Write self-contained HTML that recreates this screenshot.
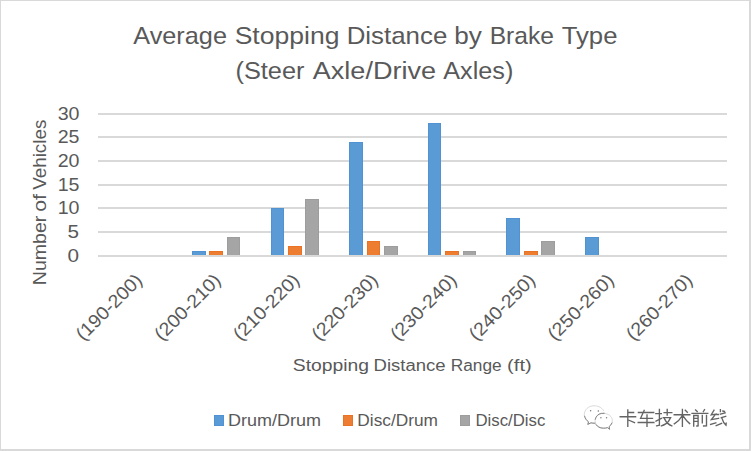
<!DOCTYPE html>
<html><head><meta charset="utf-8"><style>
html,body{margin:0;padding:0;background:#fff;}
svg{display:block;}
text{font-family:"Liberation Sans",sans-serif;fill:#595959;}
</style></head><body>
<svg width="751" height="451" viewBox="0 0 751 451">
<rect x="0" y="0" width="751" height="451" fill="#fff"/>
<rect x="0" y="0" width="751" height="1" fill="#D9D9D9"/>
<rect x="0" y="0" width="1" height="451" fill="#D9D9D9"/>
<rect x="749" y="0" width="2" height="451" fill="#D9D9D9"/>
<rect x="0" y="449" width="751" height="2" fill="#D9D9D9"/>
<text x="133.3" y="43.7" font-size="24.6" textLength="93.65" lengthAdjust="spacingAndGlyphs">Average</text>
<text x="234.65" y="43.7" font-size="24.6" textLength="104.77" lengthAdjust="spacingAndGlyphs">Stopping</text>
<text x="346.7" y="43.7" font-size="24.6" textLength="100.59" lengthAdjust="spacingAndGlyphs">Distance</text>
<text x="454.21" y="43.7" font-size="24.6" textLength="27.58" lengthAdjust="spacingAndGlyphs">by</text>
<text x="489.7" y="43.7" font-size="24.6" textLength="64.3" lengthAdjust="spacingAndGlyphs">Brake</text>
<text x="561.78" y="43.7" font-size="24.6" textLength="55.65" lengthAdjust="spacingAndGlyphs">Type</text>
<text x="235.45" y="78.7" font-size="24.6" textLength="69.09" lengthAdjust="spacingAndGlyphs">(Steer</text>
<text x="312.7" y="78.7" font-size="24.6" textLength="123.49" lengthAdjust="spacingAndGlyphs">Axle/Drive</text>
<text x="443.3" y="78.7" font-size="24.6" textLength="70.08" lengthAdjust="spacingAndGlyphs">Axles)</text>
<rect x="98" y="113" width="629" height="2" fill="#D9D9D9"/>
<rect x="98" y="136" width="629" height="2" fill="#D9D9D9"/>
<rect x="98" y="160" width="629" height="2" fill="#D9D9D9"/>
<rect x="98" y="184" width="629" height="2" fill="#D9D9D9"/>
<rect x="98" y="207" width="629" height="2" fill="#D9D9D9"/>
<rect x="98" y="231" width="629" height="2" fill="#D9D9D9"/>
<rect x="192" y="251" width="14" height="5" fill="#5092D2"/>
<rect x="193" y="252" width="12" height="4" fill="#5B9BD5"/>
<rect x="209" y="251" width="14" height="5" fill="#EA7224"/>
<rect x="210" y="252" width="12" height="4" fill="#ED7D31"/>
<rect x="227" y="237" width="13" height="19" fill="#9D9D9D"/>
<rect x="228" y="238" width="11" height="18" fill="#A5A5A5"/>
<rect x="271" y="208" width="13" height="48" fill="#5092D2"/>
<rect x="272" y="209" width="11" height="47" fill="#5B9BD5"/>
<rect x="288" y="246" width="14" height="10" fill="#EA7224"/>
<rect x="289" y="247" width="12" height="9" fill="#ED7D31"/>
<rect x="305" y="199" width="14" height="57" fill="#9D9D9D"/>
<rect x="306" y="200" width="12" height="56" fill="#A5A5A5"/>
<rect x="349" y="142" width="14" height="114" fill="#5092D2"/>
<rect x="350" y="143" width="12" height="113" fill="#5B9BD5"/>
<rect x="367" y="241" width="13" height="15" fill="#EA7224"/>
<rect x="368" y="242" width="11" height="14" fill="#ED7D31"/>
<rect x="384" y="246" width="14" height="10" fill="#9D9D9D"/>
<rect x="385" y="247" width="12" height="9" fill="#A5A5A5"/>
<rect x="428" y="123" width="13" height="133" fill="#5092D2"/>
<rect x="429" y="124" width="11" height="132" fill="#5B9BD5"/>
<rect x="445" y="251" width="14" height="5" fill="#EA7224"/>
<rect x="446" y="252" width="12" height="4" fill="#ED7D31"/>
<rect x="463" y="251" width="13" height="5" fill="#9D9D9D"/>
<rect x="464" y="252" width="11" height="4" fill="#A5A5A5"/>
<rect x="506" y="218" width="14" height="38" fill="#5092D2"/>
<rect x="507" y="219" width="12" height="37" fill="#5B9BD5"/>
<rect x="524" y="251" width="14" height="5" fill="#EA7224"/>
<rect x="525" y="252" width="12" height="4" fill="#ED7D31"/>
<rect x="541" y="241" width="14" height="15" fill="#9D9D9D"/>
<rect x="542" y="242" width="12" height="14" fill="#A5A5A5"/>
<rect x="585" y="237" width="14" height="19" fill="#5092D2"/>
<rect x="586" y="238" width="12" height="18" fill="#5B9BD5"/>
<rect x="98" y="255" width="629" height="2" fill="#D9D9D9"/>
<text x="79.5" y="119.8" text-anchor="end" font-size="18.8" textLength="21.8" lengthAdjust="spacingAndGlyphs">30</text>
<text x="79.5" y="142.8" text-anchor="end" font-size="18.8" textLength="21.8" lengthAdjust="spacingAndGlyphs">25</text>
<text x="79.5" y="166.8" text-anchor="end" font-size="18.8" textLength="21.8" lengthAdjust="spacingAndGlyphs">20</text>
<text x="79.5" y="190.8" text-anchor="end" font-size="18.8" textLength="21.8" lengthAdjust="spacingAndGlyphs">15</text>
<text x="79.5" y="213.8" text-anchor="end" font-size="18.8" textLength="21.8" lengthAdjust="spacingAndGlyphs">10</text>
<text transform="translate(79,237.8) scale(1.1,1)" text-anchor="end" font-size="18.8">5</text>
<text transform="translate(79,261.8) scale(1.1,1)" text-anchor="end" font-size="18.8">0</text>

<g transform="translate(46,0) rotate(-90)"><text x="-285.19" y="0" font-size="17.6" textLength="69.55" lengthAdjust="spacingAndGlyphs">Number</text>
<text x="-211.81" y="0" font-size="17.6" textLength="17.73" lengthAdjust="spacingAndGlyphs">of</text>
<text x="-189.8" y="0" font-size="17.6" textLength="70.17" lengthAdjust="spacingAndGlyphs">Vehicles</text></g>
<text transform="translate(143.31,281.5) rotate(-45)" text-anchor="end" font-size="18.5" textLength="85" lengthAdjust="spacingAndGlyphs">(190-200)</text>
<text transform="translate(221.94,281.5) rotate(-45)" text-anchor="end" font-size="18.5" textLength="85" lengthAdjust="spacingAndGlyphs">(200-210)</text>
<text transform="translate(300.56,281.5) rotate(-45)" text-anchor="end" font-size="18.5" textLength="85" lengthAdjust="spacingAndGlyphs">(210-220)</text>
<text transform="translate(379.19,281.5) rotate(-45)" text-anchor="end" font-size="18.5" textLength="85" lengthAdjust="spacingAndGlyphs">(220-230)</text>
<text transform="translate(457.81,281.5) rotate(-45)" text-anchor="end" font-size="18.5" textLength="85" lengthAdjust="spacingAndGlyphs">(230-240)</text>
<text transform="translate(536.44,281.5) rotate(-45)" text-anchor="end" font-size="18.5" textLength="85" lengthAdjust="spacingAndGlyphs">(240-250)</text>
<text transform="translate(615.06,281.5) rotate(-45)" text-anchor="end" font-size="18.5" textLength="85" lengthAdjust="spacingAndGlyphs">(250-260)</text>
<text transform="translate(693.69,281.5) rotate(-45)" text-anchor="end" font-size="18.5" textLength="85" lengthAdjust="spacingAndGlyphs">(260-270)</text>

<text x="292.86" y="370.7" font-size="17.3" textLength="76.24" lengthAdjust="spacingAndGlyphs">Stopping</text>
<text x="373.56" y="370.7" font-size="17.3" textLength="72.04" lengthAdjust="spacingAndGlyphs">Distance</text>
<text x="450.75" y="370.7" font-size="17.3" textLength="50.94" lengthAdjust="spacingAndGlyphs">Range</text>
<text x="507.14" y="370.7" font-size="17.3" textLength="24.58" lengthAdjust="spacingAndGlyphs">(ft)</text>
<rect x="214" y="415" width="10" height="11" fill="#5092D2"/><rect x="215" y="416" width="8" height="9" fill="#5B9BD5"/>
<text x="228.11" y="425.8" font-size="16.2" textLength="92.98" lengthAdjust="spacingAndGlyphs">Drum/Drum</text>
<rect x="343" y="415" width="10" height="11" fill="#EA7224"/><rect x="344" y="416" width="8" height="9" fill="#ED7D31"/>
<text x="357.37" y="425.8" font-size="16.2" textLength="80.65" lengthAdjust="spacingAndGlyphs">Disc/Drum</text>
<rect x="460" y="415" width="10" height="11" fill="#9D9D9D"/><rect x="461" y="416" width="8" height="9" fill="#A5A5A5"/>
<text x="475.4" y="425.8" font-size="16.2" textLength="69.97" lengthAdjust="spacingAndGlyphs">Disc/Disc</text>
<g fill="none" stroke="#dadada" stroke-width="1" stroke-linecap="round">
<path d="M603.5,410.5 C601,406.5 597,405.8 594,405.8 C588.5,405.8 584.3,409.8 584.3,414.5 C584.3,417.8 586,420.2 588.5,421.8 L587.8,424.4 L591,422.8 C592.3,423.2 593.5,423.3 595,423.2"/>
<path d="M603.5,413.3 C598.5,413.3 595.1,416.6 595.1,420.6 C595.1,424.8 599,428.2 603.5,428.2 C605,428.2 606.3,428 607.5,427.6 L609.6,429.3 L609.2,426.5 C611.2,425 612.4,423 612.4,420.6 C612.4,416.6 608.5,413.3 603.5,413.3 Z"/>
</g>
<g fill="none" stroke="#858585" stroke-width="1" stroke-linecap="round">
<path d="M584.6,416.2 C585.3,418.6 586.6,420.5 588.5,421.8 L587.8,424.4 L591,422.8 C592.3,423.2 593.5,423.3 595,423.2"/>
<path d="M595.3,419.3 C595.8,416.5 598,414 601.3,413.4 L604.2,413.3"/>
<path d="M596,424.6 C597.5,426.8 600,428.2 603.5,428.2 C605,428.2 606.3,428 607.5,427.6 L609.6,429.3 L609.2,426.5 C610.5,425.5 611.5,424.4 612,423"/>
</g>
<g fill="#7a7a7a">
<circle cx="590.6" cy="410.8" r="0.75"/><circle cx="598.3" cy="411" r="0.75"/>
<circle cx="600.9" cy="417.8" r="0.7"/><circle cx="606.6" cy="417.8" r="0.7"/>
</g>
<g fill="none" stroke="#646464" stroke-width="1.35" stroke-linecap="square">
<!-- 卡 -->
<path d="M627.8,409.8 V426.2 M627.8,412.5 H633.6 M620.2,416.7 H635.6 M628.4,420 L634.5,422.6"/>
<!-- 车 -->
<path d="M638.4,412.5 H653.7 M644.2,410.3 L640.6,418.3 L652.5,418.3 M638.2,422.5 H653.9 M647,414.8 V426.2"/>
<!-- 技 -->
<path d="M655.8,413.6 H661.3 M659.4,409.4 V425.2 L656.6,425.8 M656,421.2 L661.4,418.4 M664.1,412.6 H671.8 M667.2,409.4 V415 M663.2,417.6 H670.6 L668.5,421.4 C667,423.6 664.5,425 661.4,425.9 M664.4,418.6 C666,422 668.5,424.6 671.8,425.8"/>
<!-- 术 -->
<path d="M674.2,414.7 H689.8 M682.4,409.4 V426.2 M681.8,416.2 C680,419.5 677.5,422 674.3,423.8 M683.2,416.2 C685,419 687.2,421.6 689.7,423.6 M685.3,410.3 L687.3,412.2"/>
<!-- 前 -->
<path d="M695.6,410 L697.2,411.5 M704.5,409.7 L703.4,411.5 M692,413.3 H707.8 M693.7,426 V415.5 H698.1 V425.8 L696.8,426 M693.7,418.4 H698.1 M693.7,421.3 H698.1 M702.3,415.5 V422.7 M706.5,415.5 V425.8 L703.6,426"/>
<!-- 线 -->
<path d="M714,410.2 L711.2,414.8 L715.6,414.2 L711.4,419.6 L718.6,418.3 M710.6,424.4 L715.8,422.8 M716.8,414.5 L718.4,414.5"/>
<path d="M720.4,409.6 V411.6 M722.8,411 L724.5,411.5 M720.4,414.1 L725.1,412.9 M721.3,417.6 L725.7,416.4 M716.2,425.6 L721.6,423.3 M722,418.4 C722.8,421.2 724.2,423.6 726,425.2 L726.2,423.2"/>
</g>

</svg>
</body></html>
